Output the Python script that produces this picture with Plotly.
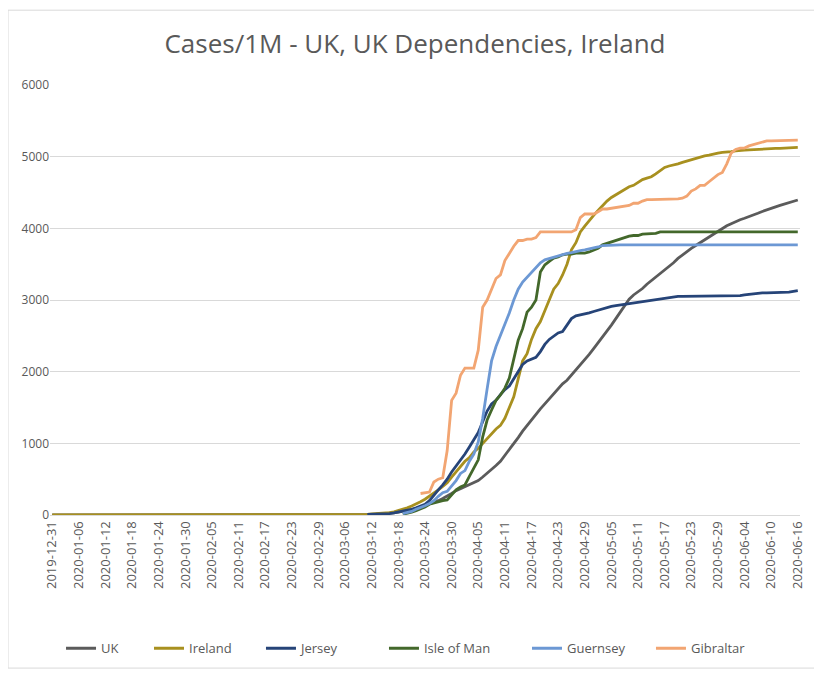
import pandas as pd
import plotly.graph_objects as go

# Category axis: daily dates
dates = [d.strftime("%Y-%m-%d") for d in pd.date_range("2019-12-31", "2020-06-16", freq="D")]
tick_labels = dates[::6]

series_names = ["UK", "Ireland", "Jersey", "Isle of Man", "Guernsey", "Gibraltar"]
series_colors = ["#5b5b5b", "#a8901f", "#264478", "#43682b", "#6c98d4", "#f2a572"]

# Series start dates (first plotted point)
uk_start = "2019-12-31"
ireland_start = "2019-12-31"
jersey_start = "2020-03-11"
isle_of_man_start = "2020-03-19"
guernsey_start = "2020-03-19"
gibraltar_start = "2020-03-23"

uk = [
    0, 0, 0, 0, 0, 0, 0, 0, 0, 0, 0, 0, 0, 0, 0, 0, 0, 0, 0, 0,
    0, 0, 0, 0, 0, 0, 0, 0, 0, 0, 0, 0, 0, 0, 0, 0, 0, 0, 0, 0,
    0, 0, 0, 0, 0, 0, 0, 0, 0, 0, 0, 0, 0, 0, 0, 0, 0, 0, 0, 0, 0,
    0.5, 0.6, 0.7, 0.8, 1.2, 1.7, 2.4, 3, 4, 5.5, 7, 9, 12, 15, 20,
    25, 30, 40, 50, 60, 75, 90, 110, 130, 150, 175, 200, 230, 260, 300, 340, 370, 400, 430, 460,
    480, 530, 580, 630, 690, 750, 830, 910, 990, 1080, 1170, 1250, 1330, 1410, 1480,
    1550, 1620, 1690, 1760, 1830, 1880, 1950, 2020, 2090, 2160, 2240, 2320, 2400, 2480, 2560,
    2650, 2740, 2830, 2910, 3010, 3070, 3110, 3160, 3220, 3270, 3310, 3360, 3410, 3460, 3520, 3580,
    3630, 3680, 3720, 3760, 3800, 3840, 3880, 3920, 3960, 4000, 4035, 4065, 4095, 4120,
    4140, 4160, 4185, 4210, 4235, 4260, 4280, 4300, 4320, 4340, 4360, 4375, 4395,
]

ireland = [
    0, 0, 0, 0, 0, 0, 0, 0, 0, 0, 0, 0, 0, 0, 0, 0, 0, 0, 0, 0,
    0, 0, 0, 0, 0, 0, 0, 0, 0, 0, 0, 0, 0, 0, 0, 0, 0, 0, 0, 0,
    0, 0, 0, 0, 0, 0, 0, 0, 0, 0, 0, 0, 0, 0, 0, 0, 0, 0, 0, 0,
    0.2, 0.2, 0.4, 0.4, 1, 1.2, 2, 3.5, 4, 5, 7, 9, 14, 18, 25, 28, 34, 45, 60, 80,
    100, 125, 150, 185, 220, 260, 300, 350, 400, 450, 530, 600, 680, 750, 800, 880, 930, 1000, 1070, 1130,
    1200, 1250, 1350, 1500, 1650, 1900, 2150, 2250, 2450, 2600, 2700, 2850, 3000, 3150, 3230, 3350, 3500, 3700, 3800, 3950,
    4030, 4110, 4180, 4250, 4320, 4380, 4430, 4470, 4510, 4550, 4580, 4600, 4640, 4680, 4700, 4720, 4760, 4800, 4850, 4870,
    4880, 4900, 4920, 4940, 4960, 4980, 5000, 5010, 5020, 5040, 5050, 5060, 5060, 5070, 5080,
    5080, 5090, 5095, 5100, 5100, 5105, 5110, 5110, 5115, 5115, 5120, 5120, 5125, 5130,
]

jersey = [
    10, 10, 10, 20, 20, 20, 30, 40, 50, 60, 80, 100, 130, 150, 200, 280, 350, 420, 500, 600,
    680, 760, 850, 950, 1050, 1150, 1300, 1450, 1550, 1600, 1680, 1750, 1800, 1900, 2000, 2100, 2150, 2180, 2200, 2280,
    2380, 2450, 2500, 2540, 2560, 2650, 2740, 2780, 2790, 2800, 2820, 2840, 2860, 2880, 2900, 2910, 2920, 2930, 2940, 2950,
    2960, 2970, 2980, 2990, 3000, 3005, 3010, 3020, 3030, 3040, 3050, 3050, 3050, 3050, 3050, 3050, 3050, 3050, 3050, 3050,
    3060, 3060, 3060, 3060, 3060, 3070, 3080, 3080, 3090, 3100, 3100, 3100, 3100, 3100, 3100, 3110, 3120, 3130,
]

isle_of_man = [
    10, 20, 40, 60, 80, 110, 150, 170, 190, 200,
    210, 280, 350, 390, 420, 540, 655, 770, 1090, 1325,
    1465, 1600, 1674, 1770, 1910, 2160, 2440, 2600, 2830, 2900, 3000, 3390, 3490, 3540, 3585, 3600, 3630, 3640, 3640, 3655,
    3655, 3655, 3670, 3700, 3720, 3770, 3790, 3810, 3836, 3860, 3880, 3890, 3900, 3900, 3920, 3920, 3930, 3930, 3950, 3950,
    3950, 3950, 3950, 3950, 3950, 3950, 3950, 3950, 3950, 3950, 3950, 3950, 3950, 3950, 3950,
    3950, 3950, 3950, 3950, 3950, 3950, 3950, 3950, 3950, 3950, 3950, 3950, 3950, 3950, 3950,
]

guernsey = [
    20, 30, 50, 80, 100, 130, 160, 200, 260, 310, 330, 400, 480, 580, 620, 750, 850, 1020, 1350, 1760,
    2150, 2350, 2500, 2650, 2820, 3000, 3150, 3250, 3320, 3380, 3450, 3520, 3560, 3580, 3600, 3620, 3640, 3650, 3660, 3680,
    3690, 3700, 3710, 3720, 3740, 3760, 3765, 3770, 3770, 3770, 3770, 3770, 3770, 3770, 3770, 3770, 3770, 3770, 3770, 3770,
    3770, 3770, 3770, 3770, 3770, 3770, 3770, 3770, 3770, 3770, 3770, 3770, 3770, 3770, 3770,
    3770, 3770, 3770, 3770, 3770, 3770, 3770, 3770, 3770, 3770, 3770, 3770, 3770, 3770, 3770,
]

gibraltar = [
    300, 310, 320, 460, 500, 520, 900, 1600, 1700, 1950, 2050, 2050, 2050, 2300, 2900, 3000, 3150, 3300, 3350, 3550,
    3650, 3750, 3830, 3830, 3850, 3850, 3870, 3950, 3950, 3950, 3950, 3950, 3950, 3950, 3950, 3980, 4150, 4200, 4200, 4200,
    4230, 4270, 4270, 4280, 4280, 4300, 4300, 4320, 4350, 4350, 4380, 4400, 4400, 4400, 4400, 4400, 4400, 4410, 4410, 4420,
    4450, 4520, 4550, 4600, 4600, 4650, 4700, 4750, 4780, 4900, 5050, 5100, 5120, 5120, 5150, 5170, 5180, 5200, 5220, 5220,
    5220, 5230, 5230, 5230, 5230, 5230,
]

y_ticks = [0, 1000, 2000, 3000, 4000, 5000, 6000]

series_values = [uk, ireland, jersey, isle_of_man, guernsey, gibraltar]
series_starts = [uk_start, ireland_start, jersey_start, isle_of_man_start, guernsey_start, gibraltar_start]

FONT = "Open Sans"
legend_ids = ["legend", "legend2", "legend3", "legend4", "legend5", "legend6"]
legend_x = [0.0147, 0.132, 0.2813, 0.4453, 0.636, 0.8013]

fig = go.Figure()
for name, color, vals, start, lid in zip(series_names, series_colors, series_values, series_starts, legend_ids):
    i0 = dates.index(start)
    xs = dates[i0:i0 + len(vals)]
    fig.add_trace(go.Scatter(
        x=xs, y=vals, name=name, mode="lines",
        line=dict(color=color, width=2.8),
        legend=lid,
    ))

legend_layout = {}
for lid, lx in zip(legend_ids, legend_x):
    legend_layout[lid] = dict(
        orientation="h", x=lx, xanchor="left", y=-0.31, yanchor="middle",
        font=dict(family=FONT, size=13, color="#595959"),
        bgcolor="rgba(0,0,0,0)", borderwidth=0,
    )

fig.update_layout(
    width=814, height=671,
    paper_bgcolor="white", plot_bgcolor="white",
    margin=dict(l=42, r=22, t=77, b=164),
    title=dict(
        text="Cases/1M - UK, UK Dependencies, Ireland",
        x=0.5, xanchor="center", y=0.946, yanchor="middle",
        font=dict(family=FONT, size=26, color="#595959"),
    ),
    font=dict(family=FONT, color="#595959"),
    showlegend=True,
    xaxis=dict(
        type="category", categoryorder="array", categoryarray=dates,
        range=[-0.5, len(dates) - 0.5],
        tickmode="array", tickvals=tick_labels, ticktext=tick_labels,
        tickangle=-90, tickfont=dict(family=FONT, size=13, color="#595959"),
        showgrid=False, showline=True, linecolor="#d9d9d9", linewidth=1,
        ticks="", zeroline=False,
    ),
    yaxis=dict(
        range=[0, 6000], tickvals=y_ticks,
        showgrid=True, gridcolor="#d9d9d9", gridwidth=1,
        zeroline=False, showline=False, ticks="",
        tickfont=dict(family=FONT, size=12, color="#595959"),
    ),
    shapes=[dict(
        type="rect", xref="paper", yref="paper",
        x0=-0.056, x1=1.02, y0=-0.356, y1=1.174,
        line=dict(color="#d9d9d9", width=1), fillcolor="rgba(0,0,0,0)", layer="below",
    )],
    **legend_layout,
)

fig.write_html("out.html")
